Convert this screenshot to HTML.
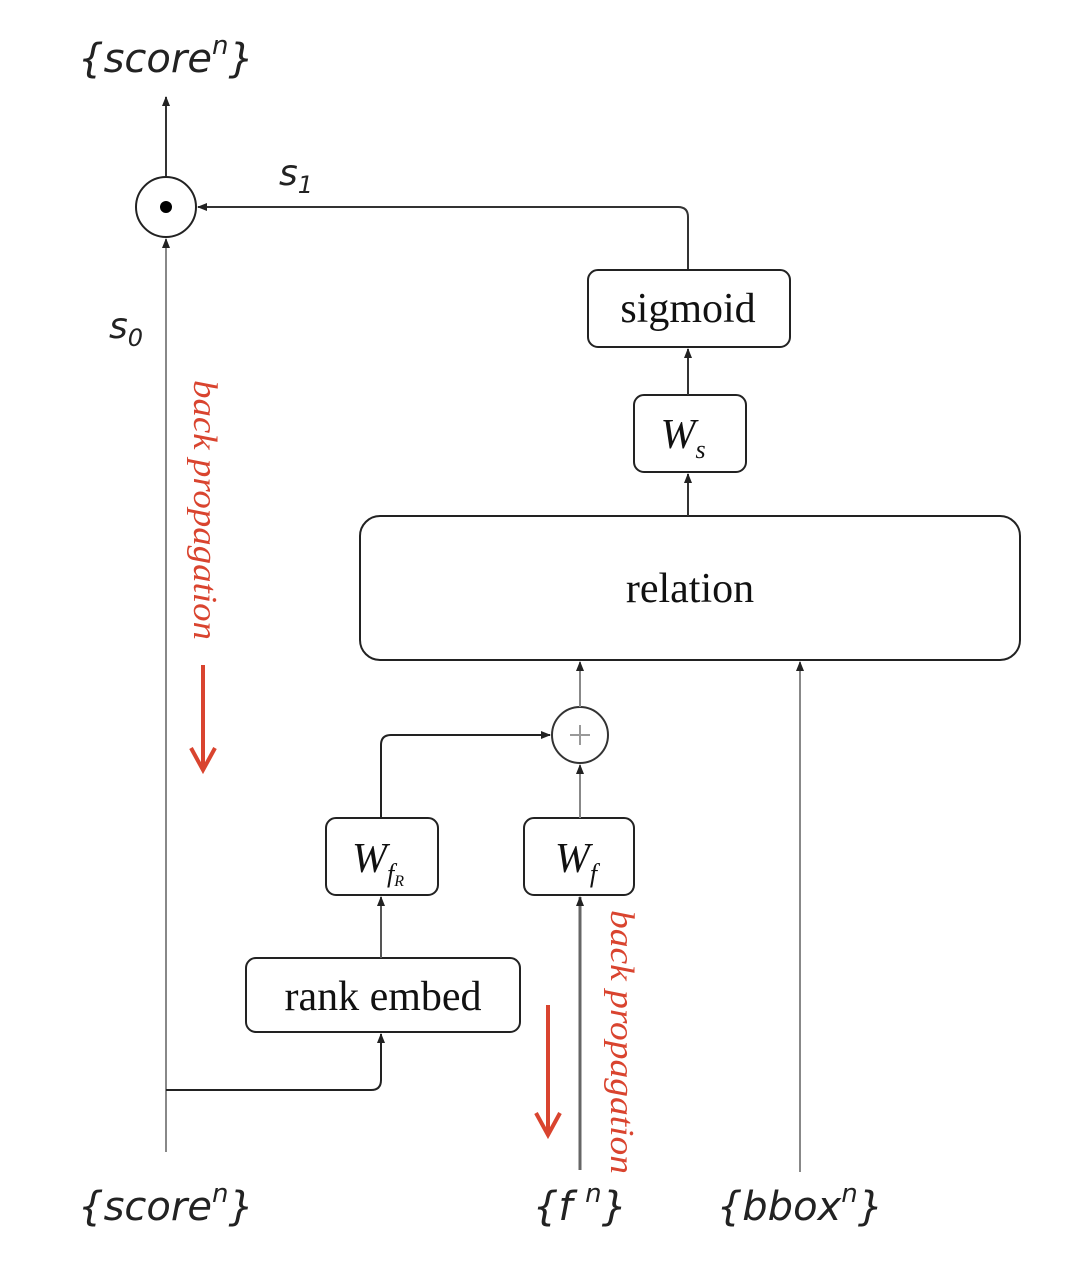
<!DOCTYPE html>
<html><head><style>
html,body{margin:0;padding:0;background:#fff;}
</style></head><body>
<svg width="1080" height="1261" viewBox="0 0 1080 1261" xmlns="http://www.w3.org/2000/svg" font-family="Liberation Serif, serif">
<defs>
<marker id="a" markerWidth="10" markerHeight="10" refX="9" refY="5" orient="auto" markerUnits="userSpaceOnUse"><path d="M0,1 L10,5 L0,9 z" fill="#222"/></marker>
</defs>
<g fill="none" stroke-width="2">
<line x1="166" y1="177" x2="166" y2="97" stroke="#333" marker-end="url(#a)"/>
<circle cx="166" cy="207" r="30" stroke="#222"/>
<circle cx="166" cy="207" r="6" fill="#000" stroke="none"/>
<line x1="166" y1="1152" x2="166" y2="239" stroke="#888" marker-end="url(#a)"/>
<path d="M166,1090 H371 Q381,1090 381,1080 V1034" stroke="#222" marker-end="url(#a)"/>
<path d="M688,270 V217 Q688,207 678,207 H198" stroke="#333" marker-end="url(#a)"/>
<rect x="588" y="270" width="202" height="77" rx="10" stroke="#222"/>
<rect x="634" y="395" width="112" height="77" rx="10" stroke="#222"/>
<rect x="360" y="516" width="660" height="144" rx="20" stroke="#222"/>
<rect x="326" y="818" width="112" height="77" rx="10" stroke="#222"/>
<rect x="524" y="818" width="110" height="77" rx="10" stroke="#222"/>
<rect x="246" y="958" width="274" height="74" rx="10" stroke="#222"/>
<line x1="688" y1="395" x2="688" y2="349" stroke="#333" marker-end="url(#a)"/>
<line x1="688" y1="516" x2="688" y2="474" stroke="#333" marker-end="url(#a)"/>
<circle cx="580" cy="735" r="28" stroke="#333"/>
<line x1="570" y1="735" x2="590" y2="735" stroke="#999"/>
<line x1="580" y1="725" x2="580" y2="745" stroke="#999"/>
<line x1="580" y1="707" x2="580" y2="662" stroke="#888" marker-end="url(#a)"/>
<line x1="580" y1="818" x2="580" y2="765" stroke="#888" marker-end="url(#a)"/>
<path d="M381,818 V745 Q381,735 391,735 H550" stroke="#222" marker-end="url(#a)"/>
<line x1="381" y1="958" x2="381" y2="897" stroke="#555" marker-end="url(#a)"/>
<line x1="580" y1="1170" x2="580" y2="897" stroke="#666" stroke-width="3" marker-end="url(#a)"/>
<line x1="800" y1="1172" x2="800" y2="662" stroke="#888" marker-end="url(#a)"/>
<g stroke="#d9442f" stroke-width="4">
<line x1="203" y1="665" x2="203" y2="768"/>
<polyline points="191,748 203,770 215,748"/>
<line x1="548" y1="1005" x2="548" y2="1133"/>
<polyline points="536,1113 548,1135 560,1113"/>
</g>
</g>
<g fill="#111" font-size="42" text-anchor="middle">
<text x="688" y="322">sigmoid</text>
<text x="690" y="602">relation</text>
<text x="383" y="1010">rank embed</text>
<text x="683" y="448" font-style="italic">W<tspan font-size="26" dy="10">s</tspan></text>
<text x="378" y="872" font-style="italic">W<tspan font-size="26" dy="10">f</tspan><tspan font-size="16" dy="4">R</tspan></text>
<text x="576" y="872" font-style="italic">W<tspan font-size="26" dy="10">f</tspan></text>
</g>
<g fill="#222" font-style="italic" text-anchor="middle" font-family="DejaVu Sans, sans-serif">
<text x="166" y="72" font-size="40">{score<tspan font-size="26" dy="-18">n</tspan><tspan dy="18">}</tspan></text>
<text x="166" y="1220" font-size="40">{score<tspan font-size="26" dy="-18">n</tspan><tspan dy="18">}</tspan></text>
<text x="580" y="1220" font-size="40">{f <tspan font-size="26" dy="-18">n</tspan><tspan dy="18">}</tspan></text>
<text x="800" y="1220" font-size="40">{bbox<tspan font-size="26" dy="-18">n</tspan><tspan dy="18">}</tspan></text>
<text x="296" y="185" font-size="36">s<tspan font-size="24" dy="8">1</tspan></text>
<text x="126" y="338" font-size="36">s<tspan font-size="24" dy="8">0</tspan></text>
</g>
<g fill="#d9442f" font-size="34" font-style="italic" textLength="260">
<text transform="translate(194,380) rotate(90)" textLength="260" lengthAdjust="spacingAndGlyphs">back propagation</text>
<text transform="translate(611,910) rotate(90)" textLength="264" lengthAdjust="spacingAndGlyphs">back propagation</text>
</g>
</svg>
</body></html>
